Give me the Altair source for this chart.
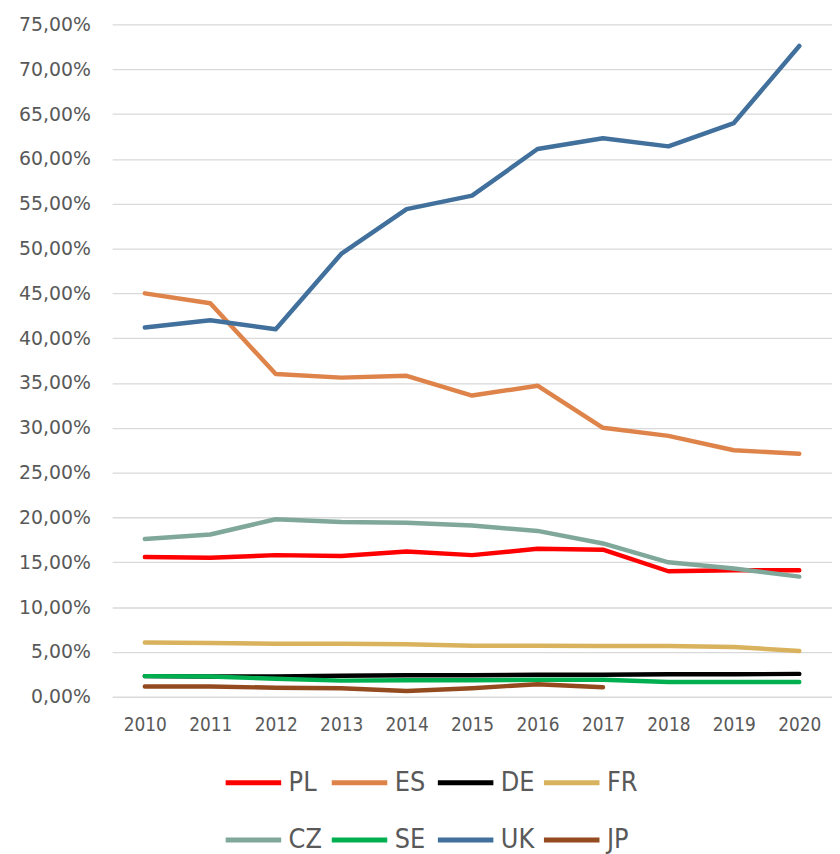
import altair as alt
import pandas as pd

years = [str(y) for y in range(2010, 2021)]
countries = ["PL", "ES", "DE", "FR", "CZ", "SE", "UK", "JP"]
colors = ["#FF0000", "#DE8349", "#000000", "#D9B25E", "#7FA89A", "#00B050", "#41709C", "#944A1F"]

PL = [15.6, 15.5, 15.8, 15.7, 16.2, 15.8, 16.5, 16.4, 14.0, 14.1, 14.1]
ES = [45.0, 43.9, 36.0, 35.6, 35.8, 33.6, 34.7, 30.0, 29.1, 27.5, 27.1]
DE = [2.3, 2.25, 2.25, 2.35, 2.4, 2.4, 2.45, 2.45, 2.5, 2.5, 2.55]
FR = [6.05, 6.0, 5.9, 5.9, 5.85, 5.7, 5.7, 5.65, 5.65, 5.55, 5.1]
CZ = [17.6, 18.1, 19.8, 19.5, 19.4, 19.1, 18.5, 17.1, 15.0, 14.3, 13.4]
SE = [2.3, 2.25, 2.0, 1.8, 1.85, 1.85, 1.9, 1.9, 1.65, 1.65, 1.65]
UK = [41.2, 42.0, 41.0, 49.4, 54.4, 55.9, 61.1, 62.3, 61.4, 64.0, 72.6]
JP = [1.15, 1.15, 1.0, 0.95, 0.65, 0.95, 1.4, 1.05, None, None, None]

series = {"PL": PL, "ES": ES, "DE": DE, "FR": FR, "CZ": CZ, "SE": SE, "UK": UK, "JP": JP}
rows = []
for c in countries:
    for y, v in zip(years, series[c]):
        if v is not None:
            rows.append({"Year": y, "Country": c, "Value": v, "order": countries.index(c)})
df = pd.DataFrame(rows)

narrow = "DejaVu Sans Condensed, Roboto, Liberation Sans"

chart = alt.Chart(df).mark_line(strokeWidth=4.5, strokeCap="round", strokeJoin="round").encode(
    x=alt.X("Year:O", title=None, sort=years,
            axis=alt.Axis(labelAngle=0, ticks=False, tickSize=0, domain=False, grid=False,
                          labelFont=narrow, labelFontSize=19,
                          labelColor="#595959", labelPadding=19)),
    y=alt.Y("Value:Q", title=None,
            scale=alt.Scale(domain=[0, 75], nice=False),
            axis=alt.Axis(values=list(range(0, 80, 5)), ticks=False, tickSize=0, domain=False,
                          gridColor="#D9D9D9", gridWidth=1.3,
                          labelExpr="replace(format(datum.value, '.2f'), '.', ',') + '%'",
                          labelFont="DejaVu Sans", labelFontSize=19, labelColor="#595959",
                          labelPadding=22)),
    color=alt.Color("Country:N", sort=countries,
                    scale=alt.Scale(domain=countries, range=colors),
                    legend=alt.Legend(title=None, orient="none", legendX=112, legendY=734,
                                      direction="horizontal", columns=4, gridAlign="all",
                                      symbolType="stroke", symbolSize=3136, symbolStrokeWidth=5,
                                      labelFont=narrow, labelFontSize=27,
                                      labelColor="#595959", labelOffset=5,
                                      columnPadding=-2, rowPadding=14, padding=0)),
    order=alt.Order("order:Q"),
).properties(
    width=726, height=678,
    autosize=alt.AutoSizeParams(type="none"),
    padding={"left": 105, "top": 13, "right": 0, "bottom": 155},
).configure_view(stroke=None)

chart.save("out.html", embed_options={"renderer": "svg", "actions": False})
